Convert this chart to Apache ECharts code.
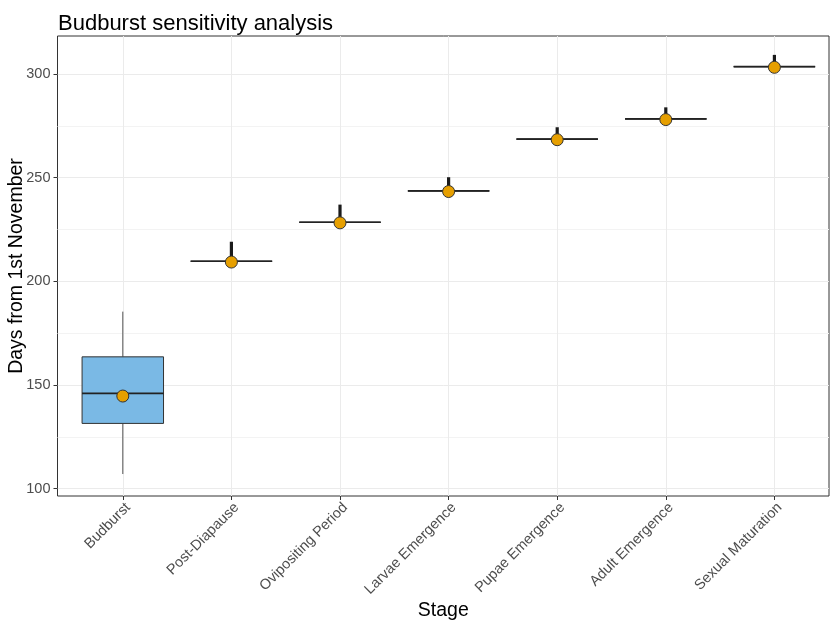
<!DOCTYPE html>
<html>
<head>
<meta charset="utf-8">
<script src="https://cdn.jsdelivr.net/npm/echarts@6/dist/echarts.min.js"></script>
<style>html,body{margin:0;padding:0;background:#fff}#c{width:830px;height:624px}</style>
</head>
<body>
<div id="c"></div>
<script>
const stages = ['Budburst', 'Post-Diapause', 'Ovipositing Period', 'Larvae Emergence', 'Pupae Emergence', 'Adult Emergence', 'Sexual Maturation'];
const whiskerLow  = [107.1, 209.7, 228.5, 243.6, 268.6, 278.3, 303.5];
const q1          = [131.5, 209.7, 228.5, 243.6, 268.6, 278.3, 303.5];
const median      = [146.0, 209.7, 228.5, 243.6, 268.6, 278.3, 303.5];
const q3          = [163.6, 209.7, 228.5, 243.6, 268.6, 278.3, 303.5];
const whiskerHigh = [185.4, 209.7, 228.5, 243.6, 268.6, 278.3, 303.5];
const outlierLow  = [null, 210.5, 229.5, 244.5, 269.5, 279.0, 304.5];
const outlierHigh = [null, 219.1, 237.0, 250.2, 274.3, 283.9, 309.2];
const mean        = [144.7, 209.3, 228.2, 243.3, 268.3, 278.0, 303.2];
const yMajorTicks = [100, 150, 200, 250, 300];
const yMinorTicks = [125, 175, 225, 275];
const yMin = 96.5, yMax = 318.3;

const FONT = '"Liberation Sans", Arial, sans-serif';
const chart = echarts.init(document.getElementById('c'), null, {renderer: 'canvas'});

const boxData = stages.map((s, i) => [i, whiskerLow[i], q1[i], median[i], q3[i], whiskerHigh[i]]);
const outData = stages.map((s, i) => outlierLow[i] == null ? null : [i, outlierLow[i], outlierHigh[i]]).filter(d => d);
const meanData = stages.map((s, i) => [i, mean[i]]);

const option = {
  backgroundColor: '#fff',
  animation: false,
  title: {
    text: 'Budburst sensitivity analysis',
    left: 53, top: 8,
    textStyle: {fontFamily: FONT, fontSize: 22, fontWeight: 'normal', color: '#000'}
  },
  grid: [
    {left: 68.5, top: 36, width: 760.2, height: 460, show: false, containLabel: false, outerBoundsMode: 'none'},
    {left: 57.5, top: 36, width: 771.5, height: 460, show: true, borderColor: '#333', borderWidth: 1, backgroundColor: 'transparent', containLabel: false, outerBoundsMode: 'none'}
  ],
  xAxis: [
    {
      type: 'category', gridIndex: 0, data: stages, boundaryGap: true,
      axisLine: {show: false},
      axisTick: {show: true, alignWithLabel: true, length: 4, lineStyle: {color: '#333'}},
      axisLabel: {rotate: 45, fontFamily: FONT, fontSize: 14.5, color: '#4d4d4d', margin: 4, interval: 0, verticalAlign: 'top'},
      splitLine: {show: true, alignWithLabel: true, lineStyle: {color: '#ebebeb', width: 1}}
    },
    {
      type: 'value', gridIndex: 1, min: 0, max: 1,
      axisLine: {show: false}, axisTick: {show: false}, axisLabel: {show: false}, splitLine: {show: false},
      name: 'Stage', nameLocation: 'middle', nameGap: 105, nameMoveOverlap: false,
      nameTextStyle: {fontFamily: FONT, fontSize: 19.5, color: '#000'}
    }
  ],
  yAxis: [
    {type: 'value', gridIndex: 0, min: yMin, max: yMax, show: false},
    {
      type: 'value', gridIndex: 1, min: yMin, max: yMax,
      axisLine: {show: false},
      axisTick: {show: true, length: 4, lineStyle: {color: '#333'}, customValues: yMajorTicks},
      axisLabel: {fontFamily: FONT, fontSize: 14.5, color: '#4d4d4d', margin: 7, customValues: yMajorTicks},
      splitLine: {show: true, lineStyle: {color: '#ebebeb', width: 1}},
      name: 'Days from 1st November', nameLocation: 'middle', nameGap: 31, nameMoveOverlap: false,
      nameTextStyle: {fontFamily: FONT, fontSize: 19.5, color: '#000'}
    },
    {
      type: 'value', gridIndex: 1, min: yMin, max: yMax,
      axisLine: {show: false},
      axisTick: {show: false, customValues: yMinorTicks},
      axisLabel: {show: false, customValues: yMinorTicks},
      splitLine: {show: true, lineStyle: {color: '#f3f3f3', width: 1}}
    }
  ],
  series: [
    {
      type: 'custom', xAxisIndex: 0, yAxisIndex: 0, z: 2,
      data: boxData,
      encode: {x: 0, y: [1, 2, 3, 4, 5]},
      renderItem: function (params, api) {
        const i = api.value(0);
        const x = api.coord([i, api.value(3)])[0];
        const half = api.size([1, 0])[0] * 0.75 / 2;
        const yLo = api.coord([i, api.value(1)])[1];
        const yQ1 = api.coord([i, api.value(2)])[1];
        const yMed = api.coord([i, api.value(3)])[1];
        const yQ3 = api.coord([i, api.value(4)])[1];
        const yHi = api.coord([i, api.value(5)])[1];
        const children = [];
        if (yLo - yQ1 > 0.5) children.push({type: 'line', shape: {x1: x, y1: yLo, x2: x, y2: yQ1}, style: {stroke: '#555', lineWidth: 1}});
        if (yQ3 - yHi > 0.5) children.push({type: 'line', shape: {x1: x, y1: yQ3, x2: x, y2: yHi}, style: {stroke: '#555', lineWidth: 1}});
        children.push({type: 'rect', shape: {x: x - half, y: yQ3, width: 2 * half, height: yQ1 - yQ3},
          style: {fill: '#7AB9E5', stroke: '#333', lineWidth: 1}});
        children.push({type: 'line', shape: {x1: x - half, y1: yMed, x2: x + half, y2: yMed}, style: {stroke: '#222', lineWidth: 1.7}});
        return {type: 'group', children: children};
      }
    },
    {
      type: 'custom', xAxisIndex: 0, yAxisIndex: 0, z: 3,
      data: outData,
      encode: {x: 0, y: [1, 2]},
      renderItem: function (params, api) {
        const i = api.value(0);
        const p1 = api.coord([i, api.value(1)]);
        const p2 = api.coord([i, api.value(2)]);
        return {type: 'line', shape: {x1: p1[0], y1: p1[1], x2: p2[0], y2: p2[1]}, style: {stroke: '#1a1a1a', lineWidth: 3.2}};
      }
    },
    {
      type: 'scatter', xAxisIndex: 0, yAxisIndex: 0, z: 4,
      data: meanData, symbol: 'circle', symbolSize: 12,
      itemStyle: {color: '#E69F00', borderColor: '#333', borderWidth: 1, opacity: 1}
    }
  ]
};
chart.setOption(option);
</script>
</body>
</html>
